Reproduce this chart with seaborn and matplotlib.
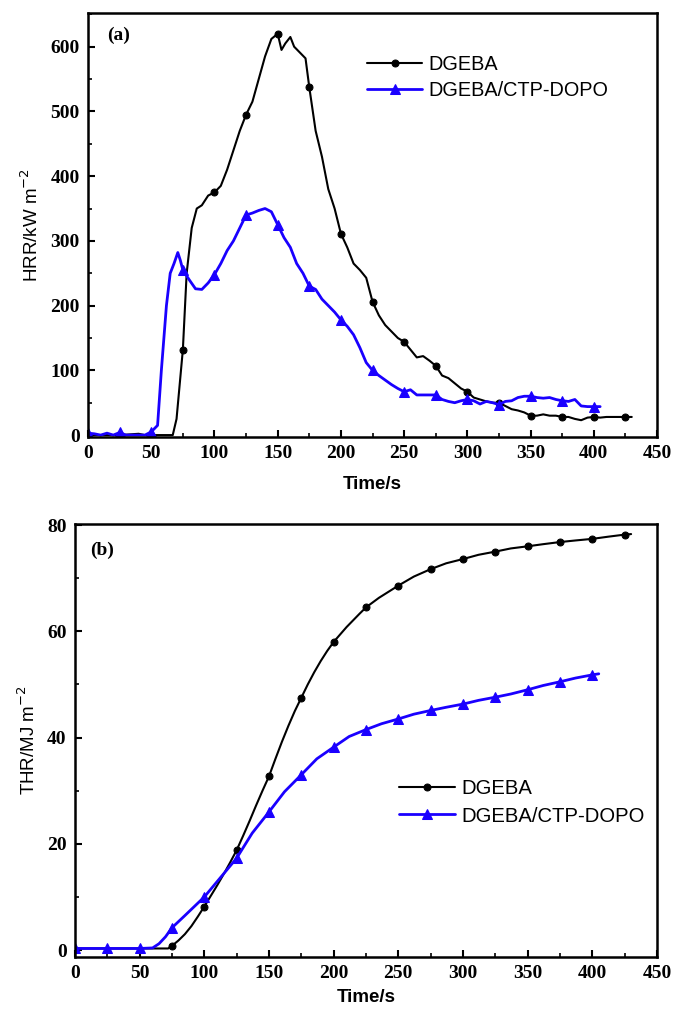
import numpy as np
import matplotlib
matplotlib.use("Agg")
import matplotlib.pyplot as plt
import seaborn as sns
from matplotlib.ticker import MultipleLocator

# ---------------- data ----------------
# (a) Heat release rate, kW m^-2
hrr_dgeba_t = [0, 25, 40, 45, 50, 65, 67, 70, 75, 78, 82, 86, 90, 95, 100, 105, 110, 115, 120, 125,
               130, 135, 140, 145, 150, 153, 156, 160, 163, 168, 172, 175, 180, 185, 190, 195, 200,
               205, 210, 215, 220, 225, 230, 235, 240, 245, 250, 255, 260, 265, 270, 275, 280, 285,
               290, 295, 300, 305, 310, 315, 320, 325, 330, 335, 340, 345, 350, 355, 360, 365, 370,
               375, 380, 385, 390, 395, 400, 405, 410, 415, 425, 430]
hrr_dgeba = [0, 0, 2, 0, 0, 0, 0, 25, 132, 250, 320, 350, 355, 370, 375, 385, 410, 440, 470, 495,
             515, 550, 585, 612, 620, 595, 605, 615, 600, 590, 582, 537, 470, 430, 380, 350, 311,
             290, 265, 255, 243, 206, 185, 170, 160, 150, 144, 132, 120, 122, 115, 107, 92, 88,
             80, 72, 67, 58, 55, 52, 50, 50, 45, 40, 38, 35, 30, 30, 32, 30, 30,
             28, 28, 25, 23, 27, 28, 27, 28, 28, 28, 28]

hrr_ctp_t = [0, 5, 10, 15, 20, 25, 30, 35, 40, 45, 50, 55, 58, 62, 65, 68, 71, 73, 75, 80, 85, 90,
             95, 100, 105, 110, 115, 120, 125, 130, 135, 140, 145, 150, 155, 160, 165, 170, 175,
             180, 185, 190, 195, 200, 205, 210, 215, 220, 225, 230, 235, 240, 245, 250, 255, 260,
             265, 270, 275, 280, 285, 290, 295, 300, 305, 310, 315, 320, 325, 330, 335, 340, 345,
             350, 355, 360, 365, 370, 375, 380, 385, 390, 395, 400, 405]
hrr_ctp = [3, 2, 0, 3, 0, 4, 0, 0, 0, 0, 5, 15, 100, 200, 250, 265, 282, 270, 255, 240, 226, 225,
           235, 248, 265, 285, 300, 320, 340, 343, 347, 350, 345, 325, 305, 290, 265, 250, 230,
           225, 210, 200, 190, 178, 168, 155, 135, 112, 100, 92, 85, 78, 72, 67, 70, 62,
           62, 62, 62, 55, 52, 50, 53, 55, 53, 48, 52, 50, 47, 52, 53, 58, 60,
           60, 58, 57, 58, 55, 53, 52, 55, 45, 44, 44, 44]

# (b) Total heat release, MJ m^-2
thr_dgeba_t = [0, 25, 50, 72, 75, 80, 85, 90, 95, 100, 105, 110, 115, 120, 125, 130, 135, 140, 145,
               150, 155, 160, 165, 170, 175, 180, 185, 190, 195, 200, 210, 220, 225, 235, 250, 262,
               275, 287, 300, 312, 325, 337, 350, 362, 375, 387, 400, 412, 425, 430]
thr_dgeba = [0.3, 0.3, 0.3, 0.3, 0.8, 1.8, 3.0, 4.5, 6.3, 8.2, 10.2, 12.2, 14.3, 16.5, 18.8, 21.5,
             24.3, 27.2, 30.0, 32.7, 36.0, 39.2, 42.2, 45.0, 47.5, 50.0, 52.3, 54.4, 56.3, 58.0,
             60.8, 63.3, 64.5, 66.3, 68.6, 70.3, 71.7, 72.8, 73.6, 74.4, 75.0, 75.6, 76.0, 76.4,
             76.8, 77.1, 77.4, 77.8, 78.2, 78.3]

thr_ctp_t = [0, 25, 50, 60, 65, 70, 75, 85, 100, 112, 125, 137, 150, 162, 175, 187, 200, 212, 225,
             237, 250, 262, 275, 287, 300, 312, 325, 337, 350, 362, 375, 387, 400, 405]
thr_ctp = [0.3, 0.3, 0.3, 0.4, 1.2, 2.5, 4.2, 6.5, 10.0, 13.5, 17.3, 22.0, 26.0, 29.8, 33.0, 36.0,
           38.2, 40.2, 41.5, 42.6, 43.5, 44.4, 45.1, 45.7, 46.3, 47.0, 47.6, 48.2, 49.0, 49.8,
           50.5, 51.2, 51.8, 52.0]

labels = ["DGEBA", "DGEBA/CTP-DOPO"]
x_ticks = [0, 50, 100, 150, 200, 250, 300, 350, 400, 450]

# ---------------- style ----------------
sns.set_theme(style="ticks")
plt.rcParams["font.family"] = ["Liberation Sans", "DejaVu Sans"]
plt.rcParams.update({"text.color": "black", "axes.labelcolor": "black",
                     "xtick.color": "black", "ytick.color": "black"})

fig = plt.figure(figsize=(6.73, 10.10), dpi=100)
ax1 = fig.add_axes([0.1308, 0.5673, 0.8455, 0.4198])
ax2 = fig.add_axes([0.1114, 0.0525, 0.8648, 0.4287])

serif_bold = {"family": ["Liberation Serif", "DejaVu Serif"], "weight": "bold", "size": 14}


def marks(ts, start=0):
    return [i for i, t in enumerate(ts) if t % 25 == 0 and t >= start]


def draw(ax, t1, y1, t2, y2, black_start, xpad):
    sns.lineplot(x=t1, y=y1, ax=ax, color="black", lw=1.5, marker="o", ms=5,
                 markevery=marks(t1, black_start), label=labels[0], sort=False,
                 estimator=None, mec="black")
    sns.lineplot(x=t2, y=y2, ax=ax, color="#1a00ff", lw=2.0, marker="^", ms=7.5,
                 markevery=marks(t2), label=labels[1], sort=False, estimator=None,
                 mec="#1a00ff")
    ax.set_xlim(0, 450)
    ax.set_xticks(x_ticks)
    ax.xaxis.set_minor_locator(MultipleLocator(25))
    ax.tick_params(axis="both", which="both", direction="in", top=False, right=False)
    ax.tick_params(axis="both", which="major", length=5, width=1.5, pad=6)
    ax.tick_params(axis="both", which="minor", length=3, width=1.2)
    for sp in ax.spines.values():
        sp.set_linewidth(1.8)
        sp.set_color("black")
    ax.set_xlabel("Time/s", fontsize=13.5, fontweight="bold", labelpad=xpad)


draw(ax1, hrr_dgeba_t, hrr_dgeba, hrr_ctp_t, hrr_ctp, 75, 10)
ax1.set_ylim(-3, 652)
ax1.set_yticks([0, 100, 200, 300, 400, 500, 600])
ax1.yaxis.set_minor_locator(MultipleLocator(50))
for lab in ax1.get_xticklabels() + ax1.get_yticklabels():
    lab.set_fontproperties(serif_bold)
ax1.set_ylabel("HRR/kW m$^{-2}$", fontsize=13.5, labelpad=6)
ax1.text(0.033, 0.968, "(a)", transform=ax1.transAxes, ha="left", va="top",
         fontsize=14, fontweight="bold", family=["Liberation Serif", "DejaVu Serif"])
ax1.legend(loc="upper left", bbox_to_anchor=(0.49, 0.90), frameon=False, fontsize=14.3,
           handlelength=2.8, handletextpad=0.3, labelspacing=0.35, borderaxespad=0,
           borderpad=0)

draw(ax2, thr_dgeba_t, thr_dgeba, thr_ctp_t, thr_ctp, 75, 5)
ax2.set_ylim(-1.3, 80.2)
ax2.set_yticks([0, 20, 40, 60, 80])
ax2.yaxis.set_minor_locator(MultipleLocator(10))
for lab in ax2.get_xticklabels() + ax2.get_yticklabels():
    lab.set_fontproperties(serif_bold)
ax2.set_ylabel("THR/MJ m$^{-2}$", fontsize=13.5, labelpad=6)
ax2.text(0.026, 0.96, "(b)", transform=ax2.transAxes, ha="left", va="top",
         fontsize=14, fontweight="bold", family=["Liberation Serif", "DejaVu Serif"])
ax2.legend(loc="upper left", bbox_to_anchor=(0.556, 0.41), frameon=False, fontsize=14.6,
           handlelength=2.8, handletextpad=0.3, labelspacing=0.4, borderaxespad=0,
           borderpad=0)

fig.savefig("out.png", dpi=100)
